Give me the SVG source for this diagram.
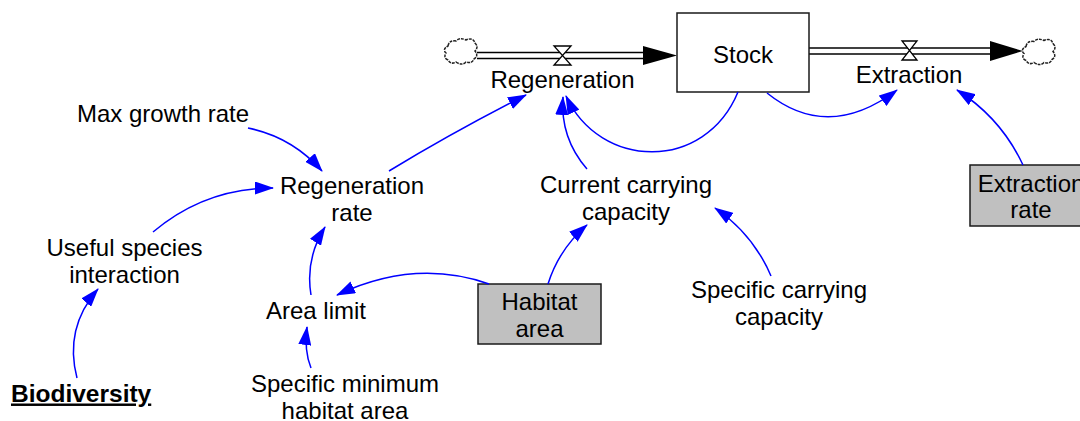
<svg xmlns="http://www.w3.org/2000/svg" width="1080" height="421" viewBox="0 0 1080 421">
  <style>
    text { font-family: "Liberation Sans", Arial, sans-serif; font-size: 24px; fill: #000; text-anchor: middle; }
    .box { stroke: #1a1a1a; stroke-width: 1.5; }
    .stock { fill: #fff; }
    .shadow { fill: #c0c0c0; }
    .pipe { stroke: #000; stroke-width: 1.6; fill: none; }
    .valve { fill: #fff; stroke: #000; stroke-width: 1.3; stroke-linejoin: miter; }
    .cloud { fill: #fff; stroke: #222; stroke-width: 1.5; stroke-dasharray: 3 1; }
    .link { fill: none; stroke: #0000ff; stroke-width: 1.5; marker-end: url(#head); }
    .title { font-weight: bold; font-size: 24.5px; text-anchor: start; text-decoration: underline; }
  </style>
  <defs>
    <marker id="head" markerUnits="userSpaceOnUse" viewBox="0 0 19 13" markerWidth="19" markerHeight="13" refX="18" refY="6.5" orient="auto">
      <path d="M0,0 L19,6.5 L0,13 Z" fill="#0000ff"/>
    </marker>
    <path id="cloudShape" d="M3,7 q1,-6 8,-5 q4,-4 10,-1 q7,-3 9,3 q4,4 0,8 q4,5 -1,8 q-2,5 -8,3 q-4,4 -10,0 q-5,3 -8,-2 q-5,-2 -2,-7 q-4,-4 2,-7 z"/>
  </defs>

  <!-- flows: clouds, pipes, valves, arrowheads -->
  <g id="flow-regeneration">
    <use href="#cloudShape" class="cloud" x="445" y="39"/>
    <line class="pipe" x1="477" y1="52.5" x2="646" y2="52.5"/>
    <line class="pipe" x1="477" y1="58.5" x2="646" y2="58.5"/>
    <path d="M643,46 L677,55.5 L643,65 Z" fill="#000"/>
    <path class="valve" d="M554,46 L571,46 L554,65 L571,65 Z"/>
    <text x="562.5" y="88">Regeneration</text>
  </g>

  <g id="flow-extraction">
    <line class="pipe" x1="809" y1="48" x2="992" y2="48"/>
    <line class="pipe" x1="809" y1="54" x2="992" y2="54"/>
    <path d="M990,41 L1023,51 L990,61 Z" fill="#000"/>
    <use href="#cloudShape" class="cloud" x="1023" y="39.5"/>
    <path class="valve" d="M902,41 L917,41 L902,60 L917,60 Z"/>
    <text x="909" y="83">Extraction</text>
  </g>

  <g id="stock">
    <rect class="box stock" x="677" y="13" width="132" height="79"/>
    <text x="743" y="63">Stock</text>
  </g>

  <g id="extraction-rate">
    <rect class="box shadow" x="970" y="165" width="122" height="61"/>
    <text x="1031" y="191.5">Extraction</text>
    <text x="1031" y="218">rate</text>
  </g>

  <g id="habitat-area">
    <rect class="box shadow" x="478" y="284" width="123" height="60"/>
    <text x="539.5" y="310">Habitat</text>
    <text x="539.5" y="336.5">area</text>
  </g>

  <g id="max-growth-rate">
    <text x="163" y="122">Max growth rate</text>
  </g>

  <g id="regeneration-rate">
    <text x="352" y="194">Regeneration</text>
    <text x="352" y="221">rate</text>
  </g>

  <g id="current-carrying-capacity">
    <text x="626" y="193">Current carrying</text>
    <text x="626" y="220">capacity</text>
  </g>

  <g id="useful-species-interaction">
    <text x="124.5" y="255.5">Useful species</text>
    <text x="124.5" y="282.5">interaction</text>
  </g>

  <g id="area-limit">
    <text x="316" y="319">Area limit</text>
  </g>

  <g id="specific-carrying-capacity">
    <text x="779" y="297.5">Specific carrying</text>
    <text x="779" y="324.5">capacity</text>
  </g>

  <g id="specific-minimum-habitat-area">
    <text x="345" y="392">Specific minimum</text>
    <text x="345" y="418.5">habitat area</text>
  </g>

  <g id="biodiversity">
    <text class="title" x="11" y="401.5">Biodiversity</text>
  </g>

  <!-- causal links -->
  <g id="connectors">
    <path class="link" d="M248,128 Q292,137 322,171"/>
    <path class="link" d="M153,232 Q205,188 273,188"/>
    <path class="link" d="M311,295 Q305,259 325,227"/>
    <path class="link" d="M489,284 Q415,258 337,295"/>
    <path class="link" d="M311,368 Q304,351 307,327"/>
    <path class="link" d="M77,378 Q64,328 98,289"/>
    <path class="link" d="M389,171 Q455,131 526,95"/>
    <path class="link" d="M738,92 C705,172 600,170 566,96"/>
    <path class="link" d="M587,169 Q560,138 563,97"/>
    <path class="link" d="M767,93 Q828,142 897,90"/>
    <path class="link" d="M1023,165 Q1001,118 957,90"/>
    <path class="link" d="M548,284 Q559,249 587,225"/>
    <path class="link" d="M771,276 Q753,234 715,208"/>
  </g>
</svg>
